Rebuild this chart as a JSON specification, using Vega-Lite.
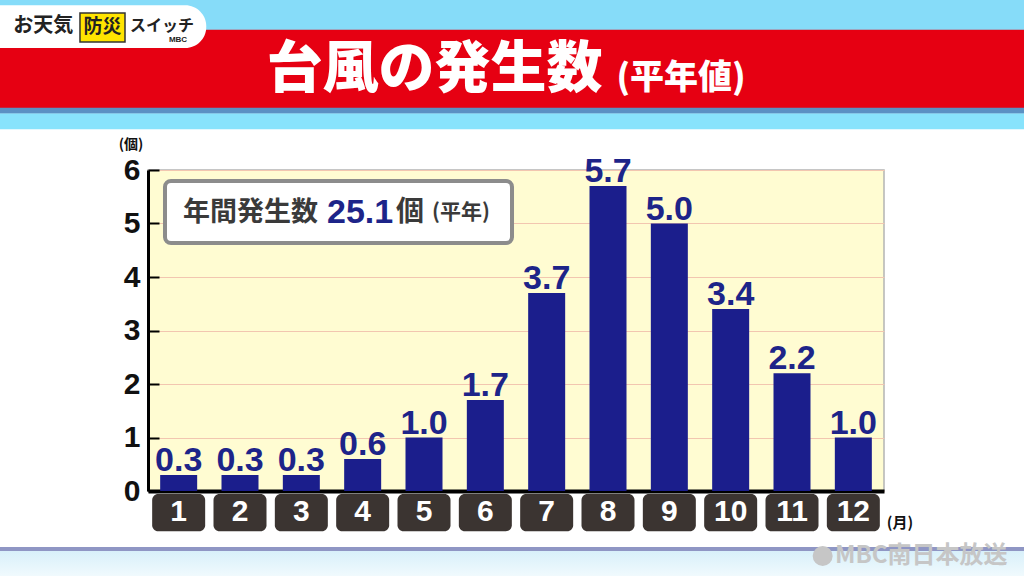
{
  "$schema": "https://vega.github.io/schema/vega-lite/v6.json",
  "autosize": "none",
  "width": 736,
  "height": 321,
  "padding": {"left": 148, "top": 170, "right": 140, "bottom": 85},
  "background": "#ffffff",
  "config": {
    "view": {"fill": "#fffcd2", "stroke": "#b4b4b4", "strokeWidth": 1.5},
    "font": "Liberation Sans",
    "axisY": {"tickCount": 6, "labelFontSize": 30, "labelFontWeight": "bold", "labelColor": "#111111", "labelFont": "Liberation Sans",
              "domainColor": "#000000", "domainWidth": 3, "tickColor": "#000000", "tickWidth": 2, "tickSize": -11, "labelPadding": 19,
              "grid": true, "gridColor": "#f2c6b0", "gridWidth": 1.2},
    "axisX": {"labels": false, "ticks": false, "grid": false, "domainColor": "#000000", "domainWidth": 4}
  },
  "datasets": {
    "typhoon": [
      {"month": 1, "value": 0.3},
      {"month": 2, "value": 0.3},
      {"month": 3, "value": 0.3},
      {"month": 4, "value": 0.6},
      {"month": 5, "value": 1.0},
      {"month": 6, "value": 1.7},
      {"month": 7, "value": 3.7},
      {"month": 8, "value": 5.7},
      {"month": 9, "value": 5.0},
      {"month": 10, "value": 3.4},
      {"month": 11, "value": 2.2},
      {"month": 12, "value": 1.0}
    ],
    "one": [{}]
  },
  "layer": [
    {
      "data": {"name": "one"},
      "mark": {"type": "rect", "color": "#86dcf9"},
      "encoding": {
        "x": {"datum": -3, "type": "quantitative", "scale": {"domain": [0.5, 12.5], "nice": false, "zero": false, "padding": 0}, "axis": {"title": null}},
        "x2": {"datum": 16},
        "y": {"datum": 8.61, "type": "quantitative", "scale": {"domain": [0, 6], "nice": false, "padding": 0}, "axis": {"title": null}},
        "y2": {"datum": 9.6}
      }
    },
    {
      "data": {"name": "one"},
      "mark": {"type": "rect", "color": "#e60012"},
      "encoding": {
        "x": {"datum": -3, "type": "quantitative", "axis": {"title": null}},
        "x2": {"datum": 16},
        "y": {"datum": 7.16, "type": "quantitative", "axis": {"title": null}},
        "y2": {"datum": 8.62}
      }
    },
    {
      "data": {"name": "one"},
      "mark": {"type": "rect", "color": "#5b91c3"},
      "encoding": {
        "x": {"datum": -3, "type": "quantitative", "axis": {"title": null}},
        "x2": {"datum": 16},
        "y": {"datum": 7.05, "type": "quantitative", "axis": {"title": null}},
        "y2": {"datum": 7.165}
      }
    },
    {
      "data": {"name": "one"},
      "mark": {"type": "rect", "color": "#88e3fc"},
      "encoding": {
        "x": {"datum": -3, "type": "quantitative", "axis": {"title": null}},
        "x2": {"datum": 16},
        "y": {"datum": 6.76, "type": "quantitative", "axis": {"title": null}},
        "y2": {"datum": 7.055}
      }
    },
    {
      "data": {"name": "one"},
      "mark": {"type": "rect", "color": "#8f96c4"},
      "encoding": {
        "x": {"datum": -3, "type": "quantitative", "axis": {"title": null}},
        "x2": {"datum": 16},
        "y": {"datum": -1.121, "type": "quantitative", "axis": {"title": null}},
        "y2": {"datum": -1.047}
      }
    },
    {
      "data": {"name": "one"},
      "mark": {"type": "rect", "color": {"gradient": "linear", "x1": 0, "y1": 0, "x2": 0, "y2": 1, "stops": [{"offset": 0, "color": "#d8f0fa"}, {"offset": 1, "color": "#f6fcfe"}]}},
      "encoding": {
        "x": {"datum": -3, "type": "quantitative", "axis": {"title": null}},
        "x2": {"datum": 16},
        "y": {"datum": -1.7, "type": "quantitative", "axis": {"title": null}},
        "y2": {"datum": -1.12}
      }
    },
    {
      "data": {"name": "one"},
      "mark": {"type": "rect", "color": "#ffffff", "cornerRadius": 21},
      "encoding": {
        "x": {"datum": -3, "type": "quantitative", "axis": {"title": null}},
        "x2": {"datum": 1.45},
        "y": {"datum": 8.28, "type": "quantitative", "axis": {"title": null}},
        "y2": {"datum": 9.08}
      }
    },
    {
      "data": {"name": "one"},
      "mark": {"type": "rect", "color": "#ffe400", "stroke": "#333333", "strokeWidth": 1.5},
      "encoding": {
        "x": {"datum": -0.609, "type": "quantitative", "axis": {"title": null}},
        "x2": {"datum": 0.125},
        "y": {"datum": 8.393, "type": "quantitative", "axis": {"title": null}},
        "y2": {"datum": 8.935}
      }
    },
    {
      "data": {"name": "one"},
      "mark": {"type": "text", "text": "お天気", "font": "Noto Sans CJK JP", "fontWeight": "bold", "fontSize": 20, "color": "#222222", "align": "left", "baseline": "middle"},
      "encoding": {
        "x": {"datum": -1.695, "type": "quantitative", "axis": {"title": null}},
        "y": {"datum": 8.69, "type": "quantitative", "axis": {"title": null}}
      }
    },
    {
      "data": {"name": "one"},
      "mark": {"type": "text", "text": "防災", "font": "Noto Sans CJK JP", "fontWeight": "bold", "fontSize": 19, "color": "#222222", "align": "center", "baseline": "middle"},
      "encoding": {
        "x": {"datum": -0.242, "type": "quantitative", "axis": {"title": null}},
        "y": {"datum": 8.67, "type": "quantitative", "axis": {"title": null}}
      }
    },
    {
      "data": {"name": "one"},
      "mark": {"type": "text", "text": "スイッチ", "font": "Noto Sans CJK JP", "fontWeight": "bold", "fontSize": 16, "color": "#222222", "align": "left", "baseline": "middle"},
      "encoding": {
        "x": {"datum": 0.207, "type": "quantitative", "axis": {"title": null}},
        "y": {"datum": 8.70, "type": "quantitative", "axis": {"title": null}}
      }
    },
    {
      "data": {"name": "one"},
      "mark": {"type": "text", "text": "MBC", "fontWeight": "bold", "fontSize": 8, "color": "#222222", "align": "center", "baseline": "middle"},
      "encoding": {
        "x": {"datum": 0.989, "type": "quantitative", "axis": {"title": null}},
        "y": {"datum": 8.439, "type": "quantitative", "axis": {"title": null}}
      }
    },
    {
      "data": {"name": "one"},
      "mark": {"type": "text", "text": "台風の発生数", "font": "Noto Sans CJK JP", "fontWeight": 900, "fontSize": 56, "color": "#ffffff", "align": "center", "baseline": "middle"},
      "encoding": {
        "x": {"datum": 5.17, "type": "quantitative", "axis": {"title": null}},
        "y": {"datum": 7.87, "type": "quantitative", "axis": {"title": null}}
      }
    },
    {
      "data": {"name": "one"},
      "mark": {"type": "text", "text": "(平年値)", "font": "Noto Sans CJK JP", "fontWeight": 900, "fontSize": 34, "color": "#ffffff", "align": "center", "baseline": "middle"},
      "encoding": {
        "x": {"datum": 9.19, "type": "quantitative", "axis": {"title": null}},
        "y": {"datum": 7.7, "type": "quantitative", "axis": {"title": null}}
      }
    },
    {
      "data": {"name": "one"},
      "mark": {"type": "rect", "color": "#ffffff", "stroke": "#8c8c8c", "strokeWidth": 4, "cornerRadius": 6},
      "encoding": {
        "x": {"datum": 0.777, "type": "quantitative", "axis": {"title": null}},
        "x2": {"datum": 6.435},
        "y": {"datum": 4.636, "type": "quantitative", "axis": {"title": null}},
        "y2": {"datum": 5.794}
      }
    },
    {
      "data": {"name": "one"},
      "mark": {"type": "text", "text": "年間発生数", "font": "Noto Sans CJK JP", "fontWeight": "bold", "fontSize": 27, "color": "#3a3a3a", "align": "left", "baseline": "middle"},
      "encoding": {
        "x": {"datum": 1.071, "type": "quantitative", "axis": {"title": null}},
        "y": {"datum": 5.2, "type": "quantitative", "axis": {"title": null}}
      }
    },
    {
      "data": {"name": "one"},
      "mark": {"type": "text", "text": "25.1", "fontWeight": "bold", "fontSize": 34, "color": "#1d2489", "align": "left", "baseline": "middle"},
      "encoding": {
        "x": {"datum": 3.418, "type": "quantitative", "axis": {"title": null}},
        "y": {"datum": 5.2, "type": "quantitative", "axis": {"title": null}}
      }
    },
    {
      "data": {"name": "one"},
      "mark": {"type": "text", "text": "個", "font": "Noto Sans CJK JP", "fontWeight": "bold", "fontSize": 28, "color": "#3a3a3a", "align": "left", "baseline": "middle"},
      "encoding": {
        "x": {"datum": 4.544, "type": "quantitative", "axis": {"title": null}},
        "y": {"datum": 5.2, "type": "quantitative", "axis": {"title": null}}
      }
    },
    {
      "data": {"name": "one"},
      "mark": {"type": "text", "text": "(平年)", "font": "Noto Sans CJK JP", "fontWeight": "bold", "fontSize": 21, "color": "#3a3a3a", "align": "left", "baseline": "middle"},
      "encoding": {
        "x": {"datum": 5.13, "type": "quantitative", "axis": {"title": null}},
        "y": {"datum": 5.2, "type": "quantitative", "axis": {"title": null}}
      }
    },
    {
      "data": {"name": "one"},
      "mark": {"type": "text", "text": "(個)", "font": "Noto Sans CJK JP", "fontWeight": "bold", "fontSize": 14, "color": "#111111", "align": "center", "baseline": "middle"},
      "encoding": {
        "x": {"datum": 0.223, "type": "quantitative", "axis": {"title": null}},
        "y": {"datum": 6.47, "type": "quantitative", "axis": {"title": null}}
      }
    },
    {
      "data": {"name": "one"},
      "mark": {"type": "text", "text": "(月)", "font": "Noto Sans CJK JP", "fontWeight": "bold", "fontSize": 15, "color": "#111111", "align": "center", "baseline": "middle"},
      "encoding": {
        "x": {"datum": 12.76, "type": "quantitative", "axis": {"title": null}},
        "y": {"datum": -0.6, "type": "quantitative", "axis": {"title": null}}
      }
    },
    {
      "data": {"name": "one"},
      "mark": {"type": "point", "filled": true, "shape": "circle", "size": 400, "color": "#c6c6c6", "opacity": 1},
      "encoding": {
        "x": {"datum": 11.5, "type": "quantitative", "axis": {"title": null}},
        "y": {"datum": -1.215, "type": "quantitative", "axis": {"title": null}}
      }
    },
    {
      "data": {"name": "one"},
      "mark": {"type": "text", "text": "MBC南日本放送", "font": "Noto Sans CJK JP", "fontWeight": "bold", "fontSize": 24, "color": "#c6c6c6", "align": "left", "baseline": "middle"},
      "encoding": {
        "x": {"datum": 11.7, "type": "quantitative", "axis": {"title": null}},
        "y": {"datum": -1.215, "type": "quantitative", "axis": {"title": null}}
      }
    },
    {
      "data": {"name": "typhoon"},
      "mark": {"type": "bar", "width": 37, "color": "#1b1e8c"},
      "encoding": {
        "x": {"field": "month", "type": "quantitative", "axis": {"title": null}},
        "y": {"field": "value", "type": "quantitative", "axis": {"title": null}}
      }
    },
    {
      "data": {"name": "typhoon"},
      "mark": {"type": "text", "fontWeight": "bold", "fontSize": 34, "color": "#1d2489", "baseline": "alphabetic", "dy": -4},
      "encoding": {
        "x": {"field": "month", "type": "quantitative", "axis": {"title": null}},
        "y": {"field": "value", "type": "quantitative", "axis": {"title": null}},
        "text": {"field": "value", "type": "quantitative", "format": ".1f"}
      }
    },
    {
      "data": {"name": "typhoon"},
      "mark": {"type": "bar", "width": 53, "color": "#3b3431", "cornerRadius": 6},
      "encoding": {
        "x": {"field": "month", "type": "quantitative", "axis": {"title": null}},
        "y": {"datum": -0.056, "type": "quantitative", "axis": {"title": null}},
        "y2": {"datum": -0.75}
      }
    },
    {
      "data": {"name": "typhoon"},
      "mark": {"type": "text", "fontWeight": "bold", "fontSize": 30, "color": "#ffffff", "baseline": "middle"},
      "encoding": {
        "x": {"field": "month", "type": "quantitative", "axis": {"title": null}},
        "y": {"datum": -0.39, "type": "quantitative", "axis": {"title": null}},
        "text": {"field": "month", "type": "ordinal"}
      }
    }
  ]
}
